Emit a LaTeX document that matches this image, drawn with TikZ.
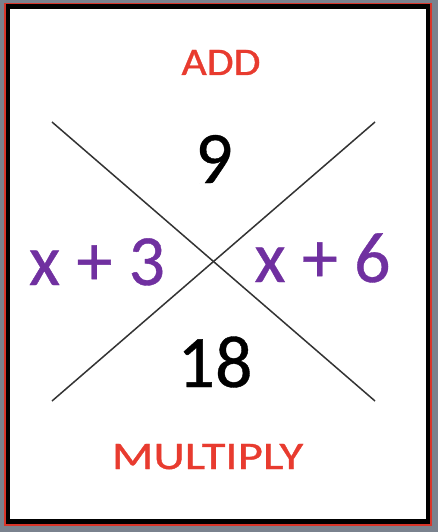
\documentclass[tikz,border=0pt]{standalone}
\usepackage{fontspec}
\usepackage{graphicx}
\setmainfont{Carlito}
\newfontfamily\heavyfont[FakeBold=0.5]{Carlito}
\newfontfamily\redfont[FakeBold=0.8]{Carlito}
\definecolor{frameGray}{HTML}{7A828E}
\definecolor{frameRed}{HTML}{D8352A}
\definecolor{labRed}{HTML}{E83B2F}
\definecolor{labPurple}{HTML}{7030A0}
\definecolor{lineGray}{HTML}{333333}
\tikzset{
  redlab/.style={anchor=base, inner sep=0pt, text=labRed, font=\redfont\fontsize{39}{39}\selectfont},
  numlab/.style={anchor=base, inner sep=0pt, text=black, font=\heavyfont\fontsize{74}{74}\selectfont},
  exprlab/.style={anchor=base, inner sep=0pt, text=labPurple, font=\heavyfont\fontsize{72}{72}\selectfont},
  crossline/.style={draw=lineGray, line width=1.5pt},
}
\begin{document}
\begin{tikzpicture}[x=1pt, y=-1pt]
\useasboundingbox (0,0) rectangle (438,532);
\fill[frameGray] (0,0) rectangle (438,532);
\fill[frameRed] (4,3) rectangle (432,526);
\fill[black] (6,4) rectangle (430,524);
\fill[white] (10,9) rectangle (426,519);
\coordinate (tl) at (52,122);
\coordinate (br) at (375,401);
\coordinate (tr) at (375,122);
\coordinate (bl) at (52,401);
\draw[crossline] (tl) -- (br);
\draw[crossline] (tr) -- (bl);
\node[redlab] (add) at (221,75) {\scalebox{1.12}[1]{ADD}};
\node[redlab] (mul) at (207.5,469) {\scalebox{1.25}[1]{MULTIPLY}};
\node[numlab] (nine) at (214,183) {9};
\node[numlab] (eighteen) at (215,387) {18};
\node[exprlab] (left) at (97,285) {x + 3};
\node[exprlab] (right) at (322.5,282) {x + 6};
\end{tikzpicture}
\end{document}
